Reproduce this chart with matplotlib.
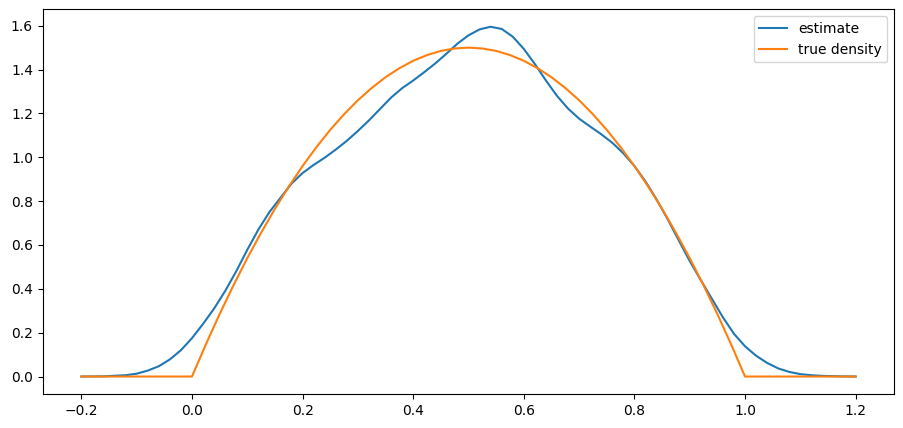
import matplotlib
matplotlib.use('Agg')
import numpy as np
from matplotlib import pyplot as plt

# Оценка плотности
est_x = [-0.2, -0.16, -0.12, -0.10, -0.08, -0.06, -0.04, -0.02, 0.00, 0.02,
         0.04, 0.06, 0.08, 0.10, 0.12, 0.14, 0.16, 0.18, 0.20, 0.22,
         0.24, 0.26, 0.28, 0.30, 0.32, 0.34, 0.36, 0.38, 0.40, 0.42,
         0.44, 0.46, 0.48, 0.50, 0.52, 0.54, 0.56, 0.58, 0.60, 0.62,
         0.64, 0.66, 0.68, 0.70, 0.72, 0.74, 0.76, 0.78, 0.80, 0.82,
         0.84, 0.86, 0.88, 0.90, 0.92, 0.94, 0.96, 0.98, 1.00, 1.02,
         1.04, 1.06, 1.08, 1.10, 1.12, 1.14, 1.17, 1.2]
est_y = [0.000, 0.001, 0.006, 0.013, 0.027, 0.047, 0.078, 0.120, 0.175, 0.240,
         0.310, 0.390, 0.480, 0.578, 0.670, 0.750, 0.815, 0.880, 0.928, 0.965,
         0.998, 1.035, 1.075, 1.120, 1.168, 1.220, 1.272, 1.315, 1.350, 1.388,
         1.428, 1.472, 1.518, 1.556, 1.583, 1.595, 1.585, 1.550, 1.494, 1.425,
         1.350, 1.280, 1.222, 1.176, 1.140, 1.105, 1.066, 1.018, 0.960, 0.890,
         0.808, 0.718, 0.622, 0.527, 0.440, 0.355, 0.270, 0.195, 0.138, 0.095,
         0.062, 0.037, 0.021, 0.011, 0.006, 0.003, 0.001, 0.000]

# Истинная плотность
true_x = [-0.2, -0.1, 0.0, 0.025, 0.05, 0.075, 0.1, 0.125, 0.15, 0.175, 0.2,
          0.225, 0.25, 0.275, 0.3, 0.325, 0.35, 0.375, 0.4, 0.425, 0.45, 0.475,
          0.5, 0.525, 0.55, 0.575, 0.6, 0.625, 0.65, 0.675, 0.7, 0.725, 0.75,
          0.775, 0.8, 0.825, 0.85, 0.875, 0.9, 0.925, 0.95, 0.975, 1.0, 1.1, 1.2]
true_y = [0.0, 0.0, 0.0, 0.146, 0.285, 0.416, 0.54, 0.656, 0.765, 0.866, 0.96,
          1.046, 1.125, 1.196, 1.26, 1.316, 1.365, 1.406, 1.44, 1.466, 1.485, 1.496,
          1.5, 1.496, 1.485, 1.466, 1.44, 1.406, 1.365, 1.316, 1.26, 1.196, 1.125,
          1.046, 0.96, 0.866, 0.765, 0.656, 0.54, 0.416, 0.285, 0.146, 0.0, 0.0, 0.0]

fig = plt.figure(figsize=(9.04, 4.28), dpi=100)
ax = fig.add_axes([0.0472, 0.0794, 0.9421, 0.8989])
ax.plot(est_x, est_y, label='estimate')
ax.plot(true_x, true_y, label='true density')
ax.legend(loc='upper right')

plt.savefig('out.png', dpi=100)
plt.close()
